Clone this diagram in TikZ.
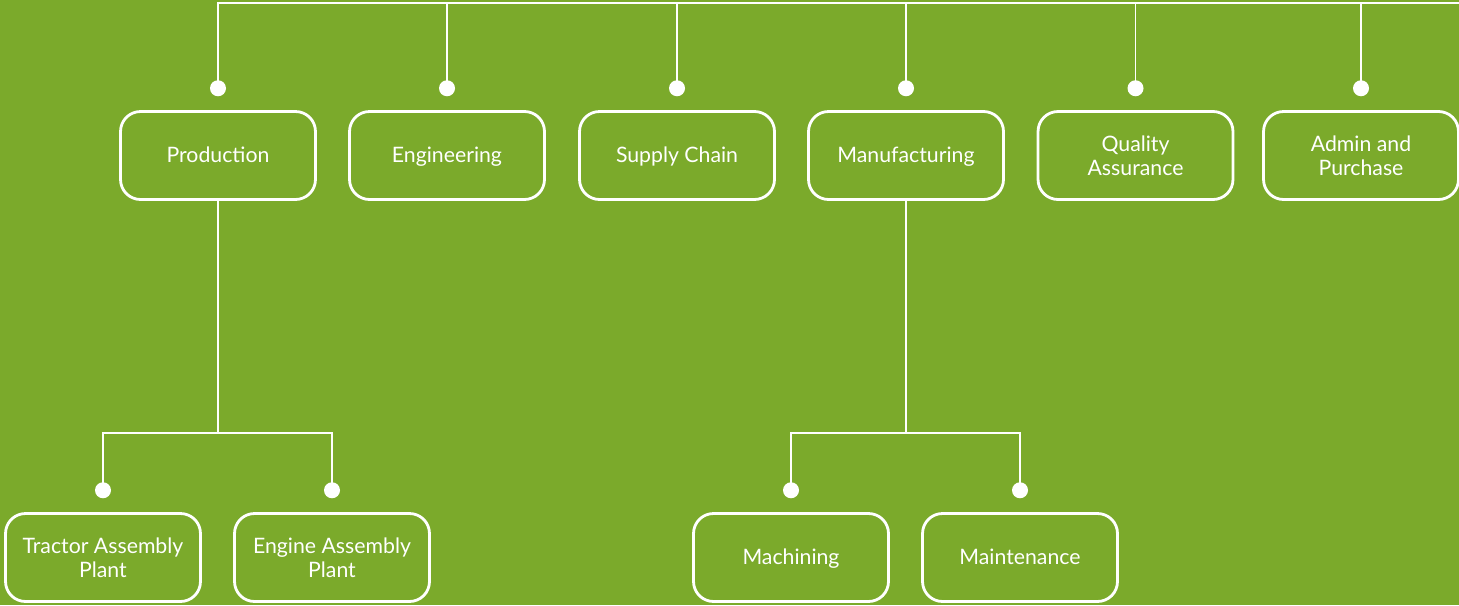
\documentclass[tikz,border=0pt]{standalone}
\usepackage{fontspec}
\setmainfont{Lato}
\usetikzlibrary{positioning}
\definecolor{leafgreen}{RGB}{123,170,43}

\tikzset{
  unit/.style={draw=white, line width=1.6pt, rounded corners=0.4cm,
    minimum width=3.9cm, minimum height=1.76cm, align=center,
    text=white, font=\fontsize{12.1}{13.6}\selectfont},
  oneline/.style={text height=0.9em, text depth=0.12em},
  link/.style={white, line width=1.1pt},
  dot/.style={circle, fill=white, inner sep=0pt, minimum size=0.32cm}}

\begin{document}
\begin{tikzpicture}[x=0.02cm,y=-0.02cm]
\useasboundingbox (0,0) rectangle (1459,605);
\fill[leafgreen] (0,0) rectangle (1459,605);

% departments
\node[unit,oneline] (prod) at (218,155.5) {Production};
\node[unit,oneline] (eng) at (447,155.5) {Engineering};
\node[unit,oneline] (supply) at (677,155.5) {Supply Chain};
\node[unit,oneline] (manuf) at (906,155.5) {Manufacturing};
\node[unit] (quality) at (1135.5,155.5) {Quality\\Assurance};
\node[unit] (admin) at (1361,155.5) {Admin and\\Purchase};

% plants and shops
\node[unit] (tractor) at (103,557.5) {Tractor Assembly\\Plant};
\node[unit] (engine) at (332,557.5) {Engine Assembly\\Plant};
\node[unit,oneline] (machining) at (791,557.5) {Machining};
\node[unit,oneline] (maint) at (1020,557.5) {Maintenance};

\foreach \n in {prod,eng,supply,manuf,quality,admin,tractor,engine,machining,maint}
  \node[dot, above=0.27cm of \n] (\n Dot) {};

% top bar
\coordinate (top) at (1462,3);
\draw[link] (prodDot.center) |- (top);
\foreach \n in {eng,supply,manuf,quality,admin}
  \draw[link] (\n Dot.center) -- (\n Dot.center |- top);

% forks
\coordinate (prodFork) at (prod.south |- 0,433);
\coordinate (manufFork) at (manuf.south |- 0,433);
\draw[link] (prod.south) -- (prodFork);
\draw[link] (tractorDot.center) |- (prodFork) -| (engineDot.center);
\draw[link] (manuf.south) -- (manufFork);
\draw[link] (machiningDot.center) |- (manufFork) -| (maintDot.center);
\end{tikzpicture}
\end{document}
